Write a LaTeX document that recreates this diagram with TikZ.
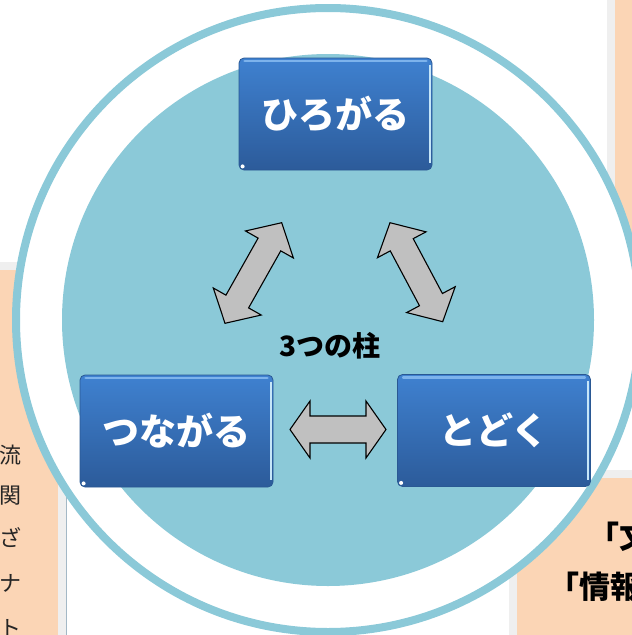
\documentclass[tikz,border=0pt]{standalone}
\usepackage{fontspec}
\newfontfamily\jp{Noto Sans CJK JP}
\usetikzlibrary{calc}
\definecolor{ringblue}{HTML}{8BC9D8}
\definecolor{peach}{HTML}{FBD5B5}
\definecolor{framegray}{HTML}{EFEFEF}
\definecolor{boxtop}{HTML}{3F81D0}
\definecolor{boxbot}{HTML}{2C5B9A}
\definecolor{boxedge}{HTML}{2A5893}
\definecolor{hilite}{HTML}{7DB3EC}
\definecolor{sidelite}{HTML}{C6E6F8}
\definecolor{arrowgray}{HTML}{C0C0C0}
\definecolor{edgeline}{HTML}{A3B8C6}
\newcommand{\pillardeco}[1]{%
  \draw[line width=2.5pt, draw=hilite, line cap=round] ([xshift=6pt,yshift=-3.5pt]#1.north west) -- ([xshift=-6pt,yshift=-3.5pt]#1.north east);
  \draw[line width=2pt, draw=sidelite] ([xshift=-2.5pt,yshift=-7pt]#1.north east) -- ([xshift=-2.5pt,yshift=7pt]#1.south east);
  \fill[white] ([xshift=4pt,yshift=4pt]#1.south west) circle (2pt);}
% #1,#2 tips, #3 head length, #4 head half width, #5 shaft half width
\newcommand{\dblblock}[5]{%
  \draw[blockarr] (#1)
    -- ($(#1)!#3!(#2)!#4!90:(#2)$) -- ($(#1)!#3!(#2)!#5!90:(#2)$)
    -- ($(#2)!#3!(#1)!#5!-90:(#1)$) -- ($(#2)!#3!(#1)!#4!-90:(#1)$)
    -- (#2)
    -- ($(#2)!#3!(#1)!#4!90:(#1)$) -- ($(#2)!#3!(#1)!#5!90:(#1)$)
    -- ($(#1)!#3!(#2)!#5!-90:(#2)$) -- ($(#1)!#3!(#2)!#4!-90:(#2)$)
    -- cycle;}
\begin{document}
\begin{tikzpicture}[x=1pt,y=-1pt,
  pillar/.style={rounded corners=5pt, top color=boxtop, bottom color=boxbot, draw=boxedge, line width=0.8pt,
    minimum width=193pt, minimum height=112pt, inner sep=0pt, text=white,
    font=\jp\bfseries\fontsize{37pt}{40pt}\selectfont},
  blockarr/.style={fill=arrowgray, draw=black, line width=1.1pt, line join=miter},
  sidechar/.style={anchor=west, inner sep=0pt, text=black!85, font=\jp\fontsize{22pt}{22pt}\selectfont},
  boldline/.style={anchor=west, inner sep=0pt, text=black, font=\jp\bfseries\fontsize{31pt}{31pt}\selectfont},
  label/.style={inner sep=0pt, text=black, font=\jp\bfseries\fontsize{28pt}{28pt}\selectfont}]
\useasboundingbox (0,0) rectangle (632,635);
\clip (0,0) rectangle (632,635);
% background boxes
\fill[framegray] (-10,262) rectangle (66,645);
\fill[peach] (-10,270) rectangle (58,645);
\draw[edgeline, line width=1pt] (66.5,270) -- (66.5,645);
\fill[framegray] (607,-10) rectangle (645,300);
\fill[peach] (615,-10) rectangle (645,300);
\fill[framegray] (509,470) rectangle (645,645);
\fill[peach] (517,478) rectangle (645,645);
% clipped side texts
\node[sidechar] (c1) at (-0.5,455) {流};
\node[sidechar] (c2) at (-0.5,496) {関};
\node[sidechar] (c3) at (-0.5,538) {ざ};
\node[sidechar] (c4) at (-0.5,583) {ナ};
\node[sidechar] (c5) at (-0.5,628) {ト};
\node[boldline] (t1) at (588,537) {「文};
\node[boldline] (t2) at (548,587) {「情報};
% ring and disc
\draw[draw=ringblue, line width=8pt, fill=white] (328,320) circle[radius=312pt];
\fill[ringblue] (328,320) circle[radius=266pt];
% arrows
\coordinate (la) at (225,323.3);
\coordinate (lb) at (281.7,222.7);
\coordinate (ra) at (390,222.7);
\coordinate (rb) at (442.7,321.7);
\coordinate (ha) at (290,429.5);
\coordinate (hb) at (386,429.5);
\dblblock{la}{lb}{25pt}{27.5pt}{13pt}
\dblblock{ra}{rb}{25pt}{27.5pt}{13pt}
\dblblock{ha}{hb}{20pt}{28.5pt}{13.5pt}
% pillars
\node[pillar] (hiro) at (335.5,114) {ひろがる};
\node[pillar] (tsuna) at (176.5,431) {つながる};
\node[pillar] (todo) at (494,430.5) {とどく};
\pillardeco{hiro}
\pillardeco{tsuna}
\pillardeco{todo}
\node[label] (lab) at (330,345.5) {3つの柱};
\end{tikzpicture}
\end{document}
